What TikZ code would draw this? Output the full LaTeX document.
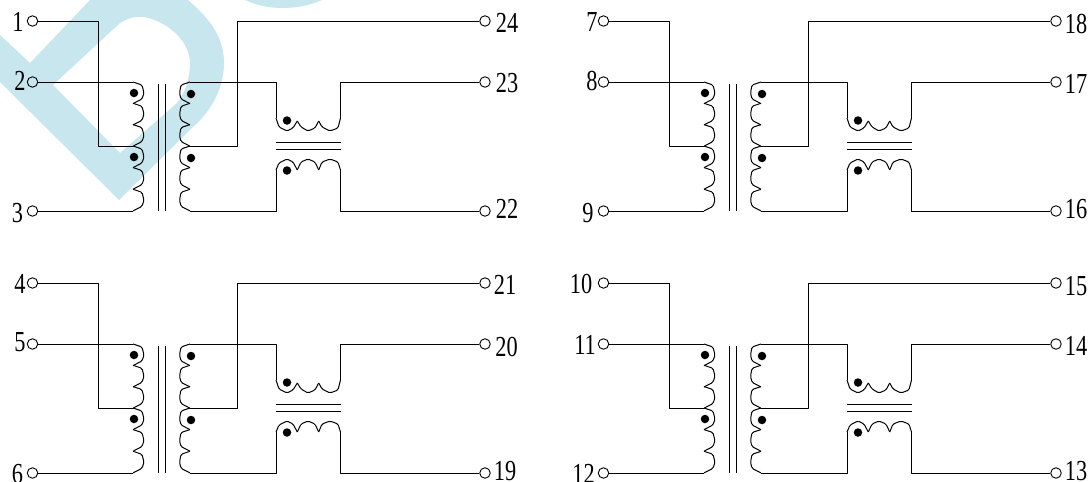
\documentclass[tikz,border=0pt]{standalone}
\usepackage{fontspec}
\setmainfont{Liberation Serif}[FakeStretch=0.77]
\definecolor{markblue}{HTML}{C8E6EE}
\tikzset{
	wire/.style={draw=black, line width=1pt, line join=round},
	lobe/.style={wire, rounded corners=1.5pt},
	term/.style={shape=circle, draw=black, line width=0.9pt, minimum size=10.5pt, inner sep=0pt},
	pindot/.style={shape=circle, fill=black, minimum size=8.5pt, inner sep=0pt},
	pinlabel/.style={inner sep=0pt, font=\fontsize{29}{29}\selectfont},
	panel/.pic={
		% Terminals and junctions:
		\node[term] (-ta) at (32.5,21){};
		\node[term] (-tb) at (32.5,82){};
		\node[term] (-tc) at (32.5,211){};
		\node[term] (-td) at (485,21){};
		\node[term] (-te) at (485,82){};
		\node[term] (-tf) at (485,211){};
		\coordinate (-pin) at (133,82);
		\coordinate (-ptap) at (133,146);
		\coordinate (-pout) at (133,211);
		\coordinate (-pbend) at (98,146);
		\coordinate (-sin) at (190,82);
		\coordinate (-stap) at (190,146);
		\coordinate (-sout) at (190,211);
		\coordinate (-sbend) at (237.5,21);
		\coordinate (-ua) at (276,118);
		\coordinate (-ub) at (340.5,118);
		\coordinate (-la) at (276,170);
		\coordinate (-lb) at (340.5,170);
		% Coils:
		\foreach \y in {82,103.3,124.6,146,167.6,189.3}{
			\draw[lobe] (133,\y) -- (142,\y+3) -- (144,\y+11) -- (142,\y+17) -- (133,\y+21.6);
			\draw[lobe] (190,\y) -- (181,\y+3) -- (179.5,\y+11) -- (181,\y+17) -- (190,\y+21.6);
		}
		\draw[lobe] (-ua) -- (279,127) -- (287,131) -- (293,128) -- (297.3,121);
		\draw[lobe] (297.3,121) -- (301,127) -- (308,131) -- (315,128) -- (318.7,121);
		\draw[lobe] (318.7,121) -- (322,127) -- (330,131) -- (338,128) -- (-ub);
		\draw[lobe] (-la) -- (279,163) -- (287,159) -- (293,162) -- (297.3,170);
		\draw[lobe] (297.3,170) -- (301,162) -- (308,159) -- (315,162) -- (318.7,170);
		\draw[lobe] (318.7,170) -- (322,162) -- (330,159) -- (338,162) -- (-lb);
		% Cores:
		\draw[wire] (158.3,84) -- (158.3,211);
		\draw[wire] (165.6,84) -- (165.6,211);
		\draw[wire] (276,142) -- (340.5,142);
		\draw[wire] (276,149) -- (340.5,149);
		% Dots:
		\node[pindot] (-d1) at (134,93){};
		\node[pindot] (-d2) at (134,157){};
		\node[pindot] (-d3) at (191,94){};
		\node[pindot] (-d4) at (191,158){};
		\node[pindot] (-d5) at (287,120.5){};
		\node[pindot] (-d6) at (287,170.5){};
		% Wires:
		\draw[wire] (-ta) -| (-pbend) -- (-ptap);
		\draw[wire] (-tb) -- (-pin);
		\draw[wire] (-tc) -- (-pout);
		\draw[wire] (-stap) -| (-sbend) -- (-td);
		\draw[wire] (-sin) -| (-ua);
		\draw[wire] (-sout) -| (-la);
		\draw[wire] (-te) -| (-ub);
		\draw[wire] (-tf) -| (-lb);
	}
}
\begin{document}
\begin{tikzpicture}[x=1pt, y=-1pt]
	\useasboundingbox (0,0) rectangle (1088,482);
	% Watermark:
	\fill[markblue, even odd rule] (0,35) -- (30,63) -- (90,0) -- (188,0)
		.. controls (212,20) and (224,40) .. (224,62)
		.. controls (224,90) and (210,112) .. (193,127)
		-- (119,200) -- (0,82) -- cycle
		(53,85) -- (120,23)
		.. controls (128,18) and (136,16) .. (143,17)
		.. controls (165,20) and (190,40) .. (190,63)
		.. controls (190,80) and (184,95) .. (177,103)
		-- (120,153) -- cycle;
	\fill[markblue] (245,0) .. controls (258,6) and (270,8) .. (283,8)
		.. controls (298,8) and (310,5) .. (322,0) -- cycle;
	% Panels:
	\pic (pa) at (0,0) {panel};
	\pic (pb) at (571,0) {panel};
	\pic (pc) at (0,262) {panel};
	\pic (pd) at (571,262) {panel};
	% Pin numbers:
	\foreach \n/\x/\y in {1/18/22, 2/20/81, 3/17.5/213, 4/20/284, 5/20/342.5, 6/17.5/474,
		7/592/22, 8/592/81, 9/588/213, 10/581/284, 11/585/345, 12/583.5/474,
		13/1076/471.5, 14/1076/346, 15/1076/286, 16/1076/209, 17/1076/84, 18/1076/24,
		19/505/471, 20/506.5/346.5, 21/505/285, 22/507/209, 23/507/83.5, 24/507/22.5}{
		\node[pinlabel] (n\n) at (\x,\y){\n};
	}
\end{tikzpicture}
\end{document}
